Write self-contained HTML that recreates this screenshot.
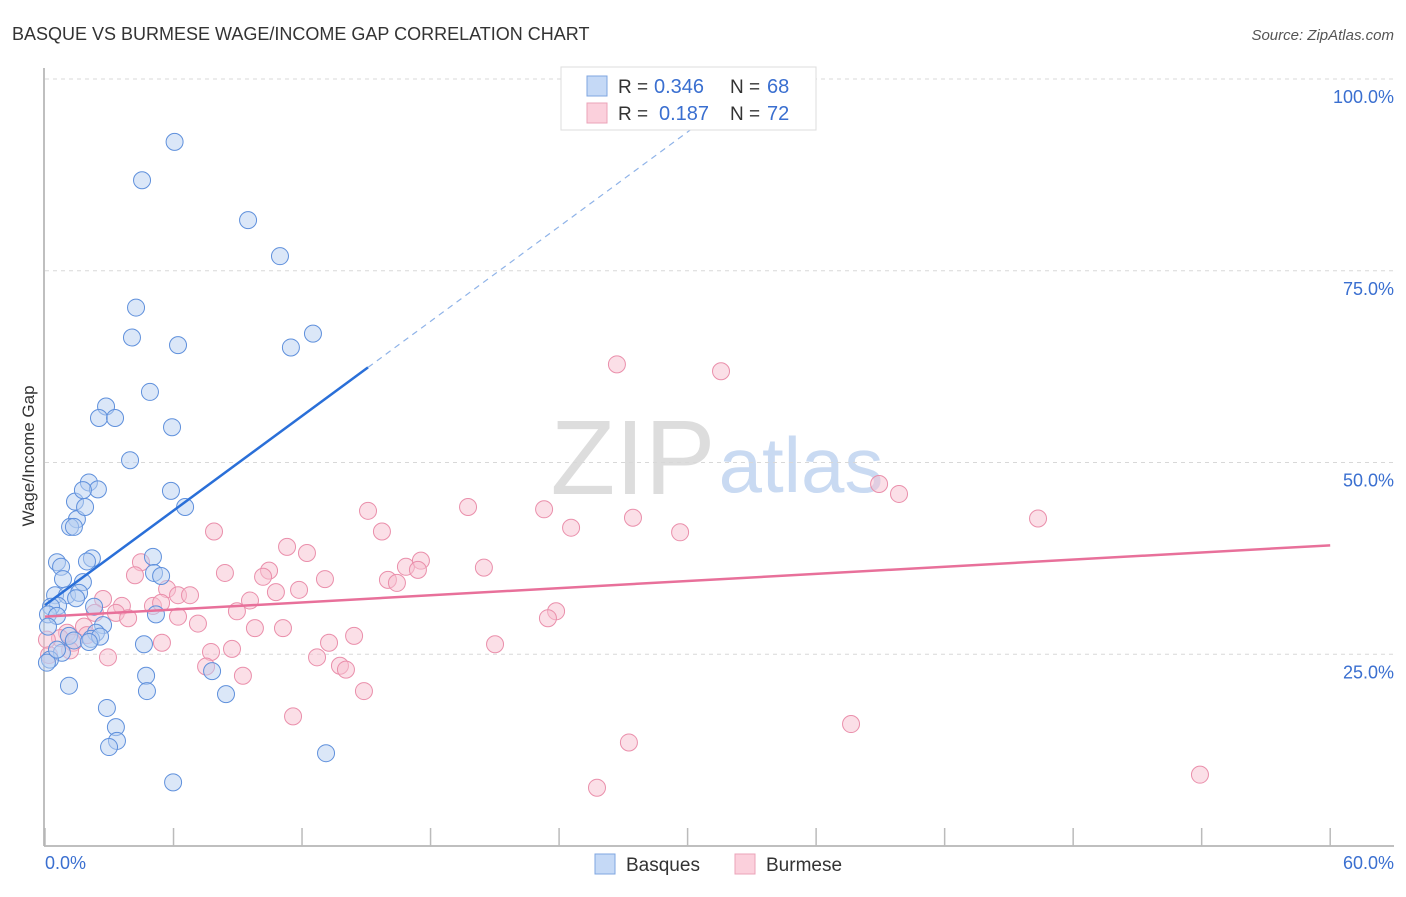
<!DOCTYPE html>
<html><head><meta charset="utf-8"><style>
body{margin:0;background:#fff;font-family:"Liberation Sans",sans-serif;}
svg text{font-family:"Liberation Sans",sans-serif;}
</style></head><body>
<svg id="chart" width="1406" height="892">
<text x="12" y="40" font-size="18" fill="#333">BASQUE VS BURMESE WAGE/INCOME GAP CORRELATION CHART</text>
<text x="1394" y="40" font-size="15" fill="#555" font-style="italic" text-anchor="end">Source: ZipAtlas.com</text>
<text x="633" y="494" font-size="106" fill="#ddd" font-family="Liberation Serif" text-anchor="middle">ZIP</text>
<text x="801" y="492" font-size="78" fill="#c9daf2" text-anchor="middle">atlas</text>
<g id="grid"></g>
<g id="marks"></g>
<text transform="translate(34,456) rotate(-90)" font-size="17" fill="#333" text-anchor="middle">Wage/Income Gap</text>
<text x="45" y="869" font-size="18" fill="#3a6fd0">0.0%</text>
<text x="1394" y="869" font-size="18" fill="#3a6fd0" text-anchor="end">60.0%</text>
<g>
<rect x="561" y="67" width="255" height="63" fill="#fff" stroke="#ddd"/>
<rect x="587" y="76" width="20" height="20" fill="#c5d9f6" stroke="#7fa6e0"/>
<rect x="587" y="103" width="20" height="20" fill="#fbd0dc" stroke="#eba3b8"/>
<text x="618" y="93" font-size="19" fill="#333">R =</text>
<text x="654" y="93" font-size="20" fill="#3a6fd0">0.346</text>
<text x="730" y="93" font-size="19" fill="#333">N =</text>
<text x="767" y="93" font-size="20" fill="#3a6fd0">68</text>
<text x="618" y="120" font-size="19" fill="#333">R =</text>
<text x="659" y="120" font-size="20" fill="#3a6fd0">0.187</text>
<text x="730" y="120" font-size="19" fill="#333">N =</text>
<text x="767" y="120" font-size="20" fill="#3a6fd0">72</text>
</g>
<g>
<rect x="595" y="854" width="20" height="20" fill="#c5d9f6" stroke="#7fa6e0"/>
<text x="626" y="871" font-size="19" fill="#333">Basques</text>
<rect x="735" y="854" width="20" height="20" fill="#fbd0dc" stroke="#eba3b8"/>
<text x="766" y="871" font-size="19" fill="#333">Burmese</text>
</g>
</svg>
<script>
const yTicks=[25,50,75,100];
const yTickLabels=["25.0%","50.0%","75.0%","100.0%"];
const xTicks=[0,6,12,18,24,30,36,42,48,54,60];
const basqueX=[6.05,4.53,9.48,10.97,4.25,12.51,4.06,6.21,11.48,4.9,2.85,2.52,3.27,5.93,3.97,2.05,2.47,5.88,1.4,1.77,1.49,1.87,1.17,1.35,6.54,0.56,0.75,2.19,1.96,5.04,0.84,5.09,1.77,5.42,0.47,1.03,1.59,1.45,0.61,0.28,2.29,0.14,0.56,5.18,2.71,0.14,1.12,2.38,2.15,2.57,1.35,2.05,4.62,0.79,0.23,0.09,1.12,4.72,4.76,7.8,8.45,2.89,3.31,3.36,2.99,13.12,5.98,0.56];
const basqueY=[91.8,86.8,81.6,76.9,70.2,66.8,66.3,65.3,65.0,59.2,57.3,55.8,55.8,54.6,50.3,47.4,46.5,46.3,44.9,46.4,42.6,44.2,41.6,41.6,44.2,37.0,36.4,37.5,37.1,37.7,34.8,35.6,34.4,35.2,32.7,32.7,33.0,32.3,31.3,31.2,31.2,30.2,30.0,30.2,28.8,28.6,27.4,27.8,27.0,27.3,26.8,26.6,26.3,25.2,24.3,23.9,20.9,22.2,20.2,22.8,19.8,18.0,15.5,13.7,12.9,12.1,8.3,25.6];
const burmeseX=[26.7,31.56,38.94,39.87,19.75,23.3,15.08,27.45,46.36,7.89,15.73,24.56,29.65,11.3,12.23,4.48,16.85,17.55,20.49,4.2,8.4,10.46,10.18,13.07,16.01,16.43,17.41,5.7,6.21,6.77,10.78,11.86,2.71,3.59,5.04,5.42,8.96,9.57,23.86,23.48,2.33,3.31,3.88,6.21,7.14,1.82,1.03,1.96,9.8,11.11,14.43,13.26,5.46,21.01,0.7,1.31,1.17,0.19,7.75,8.73,12.7,13.77,14.05,2.94,7.52,9.24,14.89,11.58,37.63,27.26,53.92,25.77,0.09];
const burmeseY=[62.8,61.9,47.2,45.9,44.2,43.9,43.7,42.8,42.7,41.0,41.0,41.5,40.9,39.0,38.2,37.0,36.4,37.2,36.3,35.3,35.6,35.9,35.1,34.8,34.7,34.3,36.0,33.5,32.7,32.7,33.1,33.4,32.2,31.3,31.3,31.7,30.6,32.0,30.6,29.7,30.4,30.4,29.7,29.9,29.0,28.6,27.8,27.5,28.4,28.4,27.4,26.5,26.5,26.3,27.1,26.5,25.5,24.9,25.3,25.7,24.6,23.5,23.0,24.6,23.4,22.2,20.2,16.9,15.9,13.5,9.3,7.6,26.9];
const blueTrend=[[0,31.4],[15.08,62.4],[31.8,96.8]];
const pinkTrend=[[0,29.9],[60,39.2]];
const X=v=>45+v*21.42, Y=v=>846-v*7.67;
const NS="http://www.w3.org/2000/svg";
function mk(tag,attrs,parent){const e=document.createElementNS(NS,tag);for(const k in attrs)e.setAttribute(k,attrs[k]);parent.appendChild(e);return e;}
const grid=document.getElementById('grid'), marks=document.getElementById('marks'), svg=document.getElementById('chart');
yTicks.forEach((t,i)=>{
 const l=mk('line',{x1:45,x2:1394,y1:Y(t),y2:Y(t),stroke:'#d8d8d8','stroke-dasharray':'4,4'},grid);
 
 
 const tx=mk('text',{x:1394,y:Y(t)+24,'font-size':18,fill:'#3a6fd0','text-anchor':'end'},svg);
 tx.textContent=yTickLabels[i];
 
 
});
const ax=mk('line',{x1:44,x2:44,y1:68,y2:846,stroke:'#aaa','stroke-width':1.5},grid);


const bx=mk('line',{x1:44,x2:1394,y1:846,y2:846,stroke:'#aaa','stroke-width':1.5},grid);


xTicks.forEach(t=>{const l=mk('line',{x1:X(t),x2:X(t),y1:828,y2:846,stroke:'#bbb','stroke-width':1.5},grid);
 
 });
function pts(xs,ys,fill,stroke,name){xs.forEach((x,i)=>{const c=mk('circle',{cx:X(x),cy:Y(ys[i]),r:8.5,fill:fill,'fill-opacity':0.5,stroke:stroke,'stroke-width':1},marks);
 
 });}
pts(burmeseX,burmeseY,'#f8bfd0','#ea8fab','burmese-point');
pts(basqueX,basqueY,'#b7cff2','#5f90dc','basque-point');
const b1=mk('line',{x1:X(blueTrend[0][0]),y1:Y(blueTrend[0][1]),x2:X(blueTrend[1][0]),y2:Y(blueTrend[1][1]),stroke:'#2a6fd8','stroke-width':2.5},marks);


const b2=mk('line',{x1:X(blueTrend[1][0]),y1:Y(blueTrend[1][1]),x2:X(blueTrend[2][0]),y2:Y(blueTrend[2][1]),stroke:'#8fb3e8','stroke-width':1.2,'stroke-dasharray':'6,5'},marks);


const p1=mk('line',{x1:X(pinkTrend[0][0]),y1:Y(pinkTrend[0][1]),x2:X(pinkTrend[1][0]),y2:Y(pinkTrend[1][1]),stroke:'#e8709a','stroke-width':2.5},marks);


</script>
</body></html>
